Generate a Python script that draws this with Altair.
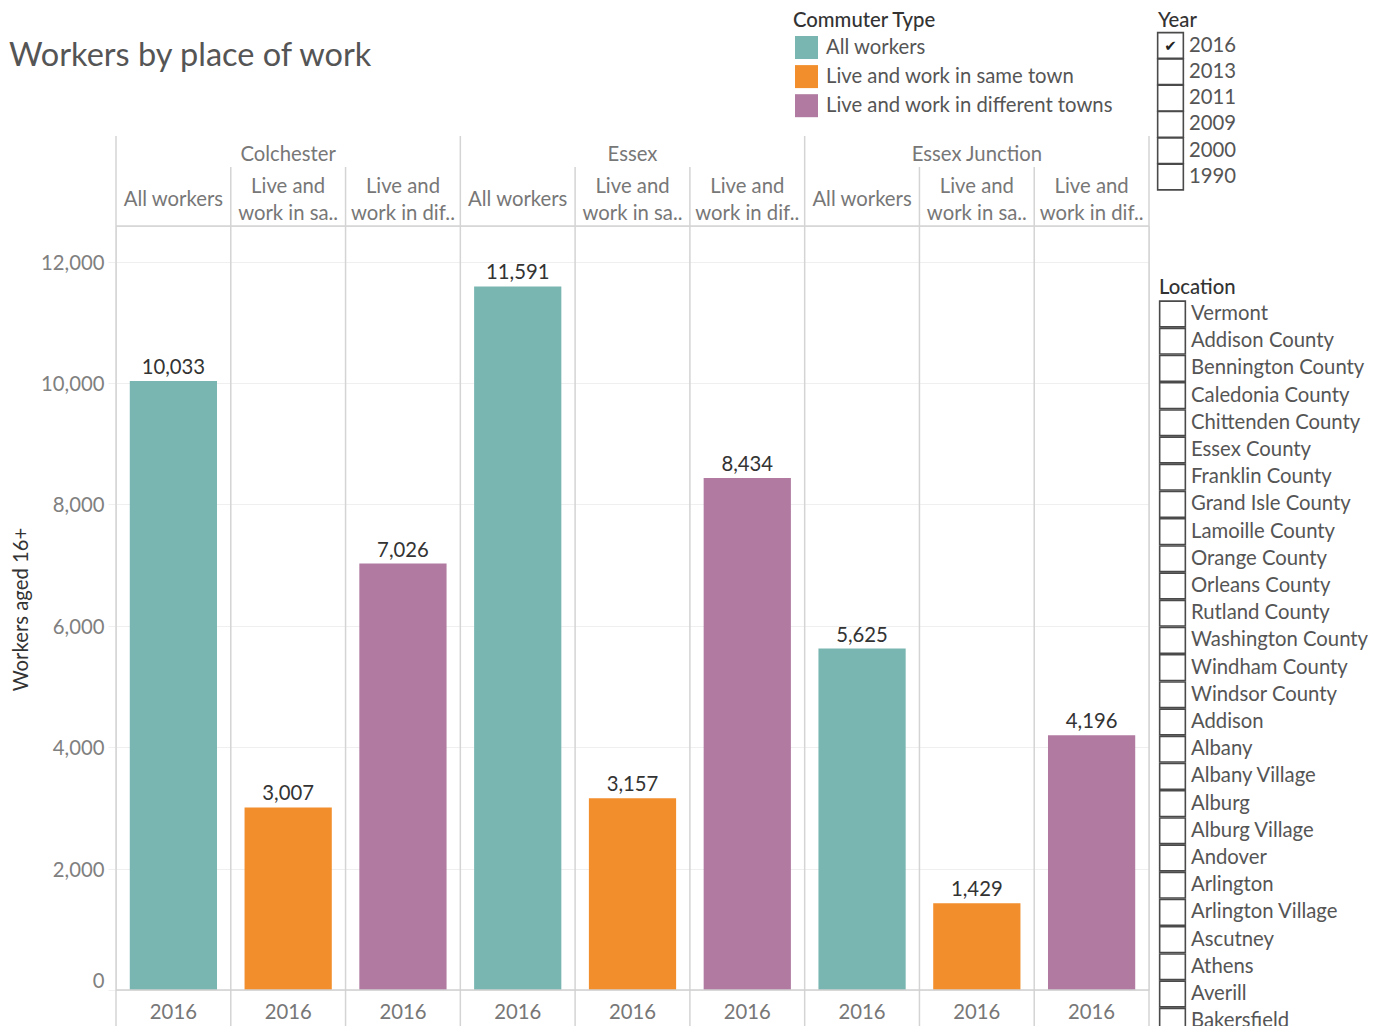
import altair as alt
import pandas as pd

FONT = "Lato"
FS = 20.3

# ---------------- data ----------------
locations = ["Colchester", "Essex", "Essex Junction"]
commuter_types = ["All workers", "Live and work in same town", "Live and work in different towns"]
type_headers = ["All workers", "Live and\nwork in sa..", "Live and\nwork in dif.."]
type_colors = ["#79b6b2", "#f28e2b", "#b07aa1"]
year_selected = "2016"
colchester_values = [10033, 3007, 7026]
essex_values = [11591, 3157, 8434]
essex_junction_values = [5625, 1429, 4196]
y_ticks = [0, 2000, 4000, 6000, 8000, 10000, 12000]

year_options = ["2016", "2013", "2011", "2009", "2000", "1990"]
year_checked = ["2016"]
location_options = [
    "Vermont", "Addison County", "Bennington County", "Caledonia County",
    "Chittenden County", "Essex County", "Franklin County", "Grand Isle County",
    "Lamoille County", "Orange County", "Orleans County", "Rutland County",
    "Washington County", "Windham County", "Windsor County", "Addison", "Albany",
    "Albany Village", "Alburg", "Alburg Village", "Andover", "Arlington",
    "Arlington Village", "Ascutney", "Athens", "Averill", "Bakersfield",
]
subtitle = "Workers by place of work"
y_title = "Workers aged 16+"
legend_title = "Commuter Type"

# ---------------- table ----------------
rows = []
for li, (loc, vals) in enumerate(zip(locations, [colchester_values, essex_values, essex_junction_values])):
    for ti, (t, h, v) in enumerate(zip(commuter_types, type_headers, vals)):
        rows.append({"location": loc, "type": t, "header": h, "workers": v,
                     "year": year_selected, "col": li * 3 + ti, "ti": ti})
df = pd.DataFrame(rows)

W, H = 1033, 764
xscale = alt.Scale(domain=[0, 9], nice=False, zero=False)
yscale = alt.Scale(domain=[0, 12586], nice=False, zero=True)

base = alt.Chart(df).transform_calculate(
    lo="datum.col + 0.12", hi="datum.col + 0.88", mid="datum.col + 0.5"
)

yaxis = alt.Axis(
    values=y_ticks, format=",.0f", grid=True, gridColor="#efefef", gridWidth=1,
    tickColor="#efefef", tickSize=8, domain=False, labelFontSize=FS,
    labelColor="#808080", labelFont=FONT, labelPadding=4, labelFlush=5,
    labelOffset=1.5,
    title=y_title, titleFontSize=FS, titleColor="#333333", titleFont=FONT,
    titleFontWeight="normal", titleX=-95, titleY=H / 2 + 1, titleAngle=270,
    titleAlign="center", titleBaseline="middle",
)

bars = base.mark_bar().encode(
    x=alt.X("lo:Q", scale=xscale, axis=None),
    x2="hi:Q",
    y=alt.Y("workers:Q", scale=yscale, axis=yaxis),
    y2=alt.Y2(datum=0),
    color=alt.Color(
        "type:N",
        scale=alt.Scale(domain=commuter_types, range=type_colors),
        legend=alt.Legend(
            title=None, orient="none", legendX=679, legendY=-190,
            symbolType="square", symbolSize=529, symbolStrokeWidth=0,
            symbolOpacity=1, labelFontSize=FS, labelColor="#555555",
            labelFont=FONT, labelOffset=8, rowPadding=6.1,
            padding=0, labelLimit=400,
        ),
    ),
)

bar_labels = base.mark_text(
    baseline="alphabetic", dy=-7, fontSize=FS, color="#333333", font=FONT
).encode(
    x=alt.X("mid:Q", scale=xscale, axis=None),
    y=alt.Y("workers:Q", scale=yscale),
    text=alt.Text("workers:Q", format=","),
)

type_head_single = base.transform_filter("datum.ti == 0").mark_text(
    baseline="middle", fontSize=FS, color="#777777", font=FONT
).encode(
    x=alt.X("mid:Q", scale=xscale, axis=None),
    y=alt.value(-26),
    text="header:N",
)
type_head_double = base.transform_filter("datum.ti != 0").mark_text(
    baseline="middle", fontSize=FS, color="#777777", font=FONT,
    lineBreak="\n", lineHeight=27,
).encode(
    x=alt.X("mid:Q", scale=xscale, axis=None),
    y=alt.value(-39),
    text="header:N",
)

loc_head = base.transform_filter("datum.ti == 1").mark_text(
    baseline="middle", fontSize=FS, color="#777777", font=FONT
).encode(
    x=alt.X("mid:Q", scale=xscale, axis=None),
    y=alt.value(-71),
    text="location:N",
)

year_axis = base.mark_text(
    baseline="middle", fontSize=FS, color="#777777", font=FONT
).encode(
    x=alt.X("mid:Q", scale=xscale, axis=None),
    y=alt.value(787),
    text="year:N",
)

outer_rules = base.transform_filter("datum.ti == 0").mark_rule(
    color="#d4d4d4", strokeWidth=1.5
).encode(
    x=alt.X("col:Q", scale=xscale, axis=None),
    y=alt.value(-90), y2=alt.value(810),
)
inner_rules = base.transform_filter("datum.ti != 0").mark_rule(
    color="#d4d4d4", strokeWidth=1.5
).encode(
    x=alt.X("col:Q", scale=xscale, axis=None),
    y=alt.value(-59), y2=alt.value(810),
)
right_rule = alt.Chart(df.head(1)).mark_rule(color="#d4d4d4", strokeWidth=1.5).encode(
    x=alt.value(W), y=alt.value(-90), y2=alt.value(810)
)
header_line = alt.Chart(df.head(1)).mark_rule(color="#d4d4d4", strokeWidth=1.5).encode(
    x=alt.value(0), x2=alt.value(W), y=alt.value(0)
)
zero_line = alt.Chart(df.head(1)).mark_rule(color="#d0d0d0", strokeWidth=1.5).encode(
    x=alt.value(0), x2=alt.value(W), y=alt.Y(datum=0, scale=yscale)
)

sub = alt.Chart(pd.DataFrame({"t": [subtitle]})).mark_text(
    align="left", baseline="middle", fontSize=32.5, color="#555555", font=FONT
).encode(x=alt.value(-107), y=alt.value(-170), text="t:N")

legend_ttl = alt.Chart(pd.DataFrame({"t": [legend_title]})).mark_text(
    align="left", baseline="middle", fontSize=FS, fontWeight=500, color="#333333", font=FONT
).encode(x=alt.value(677), y=alt.value(-205), text="t:N")

# ---- filter widgets (checkbox lists) ----
def checklist(options, checked, box_x, label_x, y0, step, title, title_x, title_y):
    d = pd.DataFrame({"name": options, "checked": [o in checked for o in options]})
    c = alt.Chart(d).transform_window(i="row_number()").transform_calculate(
        py=f"{y0} + {step} * (datum.i - 1)"
    )
    boxes = c.mark_square(filled=False, size=660, color="#4a4a4a", strokeWidth=1.6, opacity=1).encode(
        x=alt.value(box_x), y=alt.Y("py:Q", scale=None)
    )
    labels = c.mark_text(align="left", baseline="middle", fontSize=FS, color="#555555", font=FONT).encode(
        x=alt.value(label_x), y=alt.Y("py:Q", scale=None), text="name:N"
    )
    ticks = c.transform_filter("datum.checked").mark_text(
        align="center", baseline="middle", fontSize=15, color="#222222", font="DejaVu Sans"
    ).encode(x=alt.value(box_x), y=alt.Y("py:Q", scale=None), text=alt.value("✔"))
    ttl = alt.Chart(pd.DataFrame({"t": [title]})).mark_text(
        align="left", baseline="middle", fontSize=FS, fontWeight=500, color="#333333", font=FONT
    ).encode(x=alt.value(title_x), y=alt.value(title_y), text="t:N")
    return [boxes, labels, ticks, ttl]

year_layers = checklist(year_options, year_checked, 1054.5, 1073, -180.5, 26.3, "Year", 1042, -205)
loc_layers = checklist(location_options, [], 1056.5, 1075, 88, 27.2, "Location", 1043, 62)

chart = alt.layer(
    outer_rules, inner_rules, right_rule, header_line,
    bars, zero_line, bar_labels, type_head_single, type_head_double, loc_head,
    year_axis, sub, legend_ttl, *year_layers, *loc_layers,
).properties(
    width=W, height=H,
    autosize=alt.AutoSizeParams(type="none"),
    padding={"left": 108, "top": 218, "right": 227, "bottom": 36},
).configure_view(stroke=None).configure(background="white")

chart.save("out.html", embed_options={"renderer": "svg", "actions": False})
